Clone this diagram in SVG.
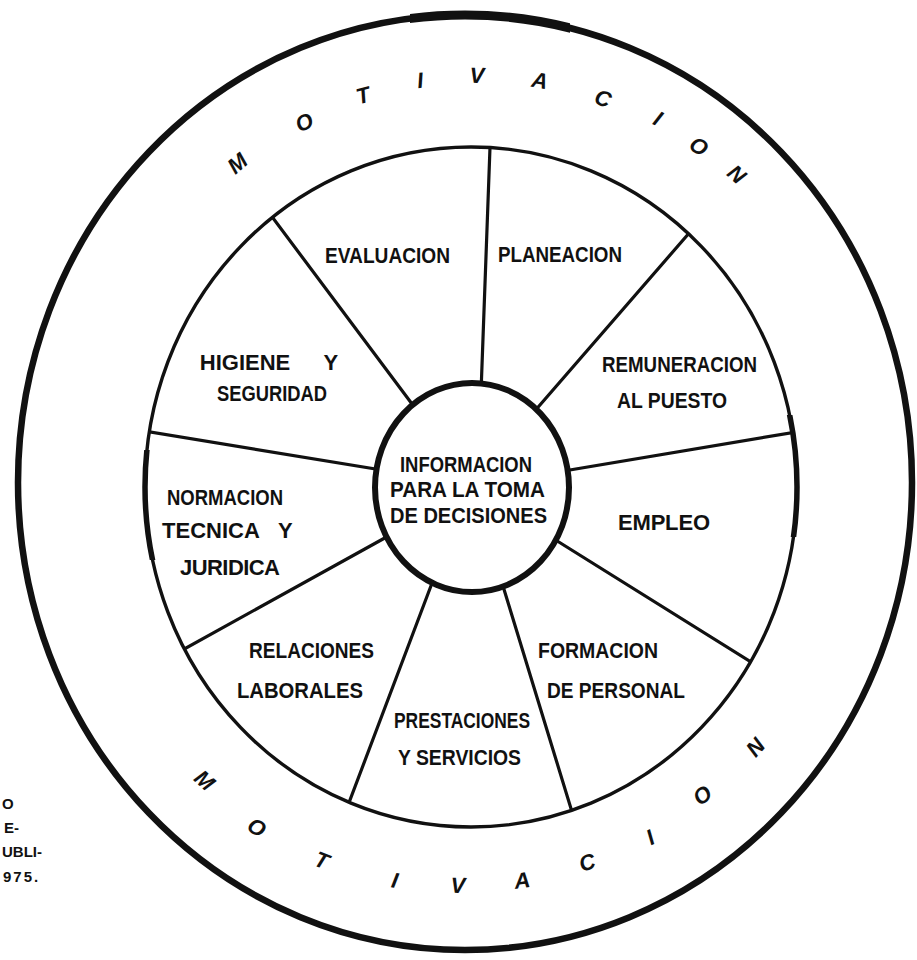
<svg xmlns="http://www.w3.org/2000/svg" width="917" height="960" viewBox="0 0 917 960">
<style>
.ln{fill:none;stroke:#111;stroke-linecap:round}
.lbl{font-family:"Liberation Sans",Arial,sans-serif;font-weight:bold;font-size:22px;fill:#111;text-anchor:middle}
.ring{font-family:"Liberation Sans",Arial,sans-serif;font-weight:bold;font-style:italic;font-size:22px;fill:#111;text-anchor:middle}
.note{font-family:"Liberation Sans",Arial,sans-serif;font-weight:bold;font-size:15px;fill:#111;text-anchor:start}
</style>
<defs>
<clipPath id="innerClip"><ellipse cx="471" cy="487" rx="326" ry="340"/></clipPath>
<clipPath id="topClip"><rect x="410" y="0" width="160" height="60"/></clipPath>
<clipPath id="leftClip"><rect x="120" y="450" width="60" height="110"/></clipPath>
<clipPath id="rightClip"><rect x="760" y="415" width="60" height="122"/></clipPath>
</defs>
<rect width="917" height="960" fill="#fff"/>

<g id="motivacion-ring">
<ellipse class="ln" cx="465" cy="482.5" rx="447" ry="467.5" stroke-width="6.5"/>
<ellipse class="ln" cx="465" cy="482.5" rx="447" ry="467.5" stroke-width="9" clip-path="url(#topClip)"/>
<g id="motivacion-top">
<text class="ring" transform="translate(237,163) rotate(-40)" x="0" y="8">M</text>
<text class="ring" transform="translate(304,122) rotate(-24)" x="0" y="8">O</text>
<text class="ring" transform="translate(363,95) rotate(-15)" x="0" y="8">T</text>
<text class="ring" transform="translate(420,80) rotate(-7)" x="0" y="8">I</text>
<text class="ring" transform="translate(477,75) rotate(1)" x="0" y="8">V</text>
<text class="ring" transform="translate(540,80) rotate(10)" x="0" y="8">A</text>
<text class="ring" transform="translate(603,98) rotate(19)" x="0" y="8">C</text>
<text class="ring" transform="translate(658,118) rotate(27)" x="0" y="8">I</text>
<text class="ring" transform="translate(699,146) rotate(34)" x="0" y="8">O</text>
<text class="ring" transform="translate(737,174) rotate(41)" x="0" y="8">N</text>
</g>
<g id="motivacion-bottom">
<text class="ring" transform="translate(205,780) rotate(42)" x="0" y="8">M</text>
<text class="ring" transform="translate(257,827) rotate(32)" x="0" y="8">O</text>
<text class="ring" transform="translate(322,860) rotate(21)" x="0" y="8">T</text>
<text class="ring" transform="translate(395,880) rotate(10)" x="0" y="8">I</text>
<text class="ring" transform="translate(458,885) rotate(1)" x="0" y="8">V</text>
<text class="ring" transform="translate(522,880) rotate(-8)" x="0" y="8">A</text>
<text class="ring" transform="translate(587,862) rotate(-17)" x="0" y="8">C</text>
<text class="ring" transform="translate(650,837) rotate(-27)" x="0" y="8">I</text>
<text class="ring" transform="translate(702,795) rotate(-37)" x="0" y="8">O</text>
<text class="ring" transform="translate(755,747) rotate(-48)" x="0" y="8">N</text>
</g>
</g>

<g id="wheel">
<ellipse class="ln" cx="471" cy="487" rx="326" ry="340" stroke-width="3.4"/>
<ellipse class="ln" cx="471" cy="487" rx="326" ry="340" stroke-width="5.5" clip-path="url(#leftClip)"/>
<ellipse class="ln" cx="471" cy="487" rx="326" ry="340" stroke-width="5.5" clip-path="url(#rightClip)"/>
</g>

<g id="connectors" clip-path="url(#innerClip)">
<line class="ln" stroke-width="3.2" x1="491" y1="120" x2="480" y2="420"/>
<line class="ln" stroke-width="3.2" x1="710" y1="209" x2="520" y2="428"/>
<line class="ln" stroke-width="3.2" x1="820" y1="428" x2="540" y2="475"/>
<line class="ln" stroke-width="3.2" x1="530" y1="524" x2="780" y2="680"/>
<line class="ln" stroke-width="3.2" x1="580" y1="838" x2="495" y2="560"/>
<line class="ln" stroke-width="3.2" x1="336" y1="837" x2="440" y2="562"/>
<line class="ln" stroke-width="3.2" x1="410" y1="524" x2="150" y2="668"/>
<line class="ln" stroke-width="3.2" x1="120" y1="427" x2="400" y2="473"/>
<line class="ln" stroke-width="3.2" x1="255" y1="194" x2="430" y2="428"/>
</g>

<g id="evaluacion"><text class="lbl" x="387.5" y="263" textLength="125" lengthAdjust="spacingAndGlyphs">EVALUACION</text></g>
<g id="planeacion"><text class="lbl" x="560" y="262" textLength="124" lengthAdjust="spacingAndGlyphs">PLANEACION</text></g>
<g id="remuneracion">
<text class="lbl" x="679.5" y="372" textLength="155" lengthAdjust="spacingAndGlyphs">REMUNERACION</text>
<text class="lbl" x="672" y="408" textLength="110" lengthAdjust="spacingAndGlyphs">AL PUESTO</text>
</g>
<g id="empleo"><text class="lbl" x="664" y="530" textLength="92" lengthAdjust="spacing">EMPLEO</text></g>
<g id="formacion">
<text class="lbl" x="598" y="658" textLength="120" lengthAdjust="spacingAndGlyphs">FORMACION</text>
<text class="lbl" x="616" y="698" textLength="138" lengthAdjust="spacingAndGlyphs">DE PERSONAL</text>
</g>
<g id="prestaciones">
<text class="lbl" x="462" y="728" textLength="136" lengthAdjust="spacingAndGlyphs">PRESTACIONES</text>
<text class="lbl" x="459.5" y="765" textLength="123" lengthAdjust="spacingAndGlyphs">Y SERVICIOS</text>
</g>
<g id="relaciones">
<text class="lbl" x="311.5" y="658" textLength="125" lengthAdjust="spacingAndGlyphs">RELACIONES</text>
<text class="lbl" x="300" y="698" textLength="126" lengthAdjust="spacingAndGlyphs">LABORALES</text>
</g>
<g id="normacion">
<text class="lbl" x="225" y="505" textLength="116" lengthAdjust="spacingAndGlyphs">NORMACION</text>
<text class="lbl" y="538"><tspan x="211">TECNICA</tspan><tspan x="282.5"> Y</tspan></text>
<text class="lbl" x="230" y="575" textLength="100" lengthAdjust="spacing">JURIDICA</text>
</g>
<g id="higiene">
<text class="lbl" y="370"><tspan x="245">HIGIENE</tspan><tspan x="328"> Y</tspan></text>
<text class="lbl" x="272" y="401" textLength="110" lengthAdjust="spacingAndGlyphs">SEGURIDAD</text>
</g>

<g id="informacion">
<ellipse cx="472" cy="487.5" rx="97" ry="104.5" fill="#fff" stroke="#111" stroke-width="6"/>
<text class="lbl" x="466" y="472" textLength="132" lengthAdjust="spacingAndGlyphs">INFORMACION</text>
<text class="lbl" x="467.5" y="497" textLength="155" lengthAdjust="spacingAndGlyphs">PARA LA TOMA</text>
<text class="lbl" x="468.5" y="523" textLength="157" lengthAdjust="spacingAndGlyphs">DE DECISIONES</text>
</g>

<g id="source-note">
<text class="note" x="2" y="809">O</text>
<text class="note" x="4" y="833">E-</text>
<text class="note" x="2" y="857">UBLI-</text>
<text class="note" x="3" y="882" letter-spacing="2">975.</text>
</g>
</svg>
